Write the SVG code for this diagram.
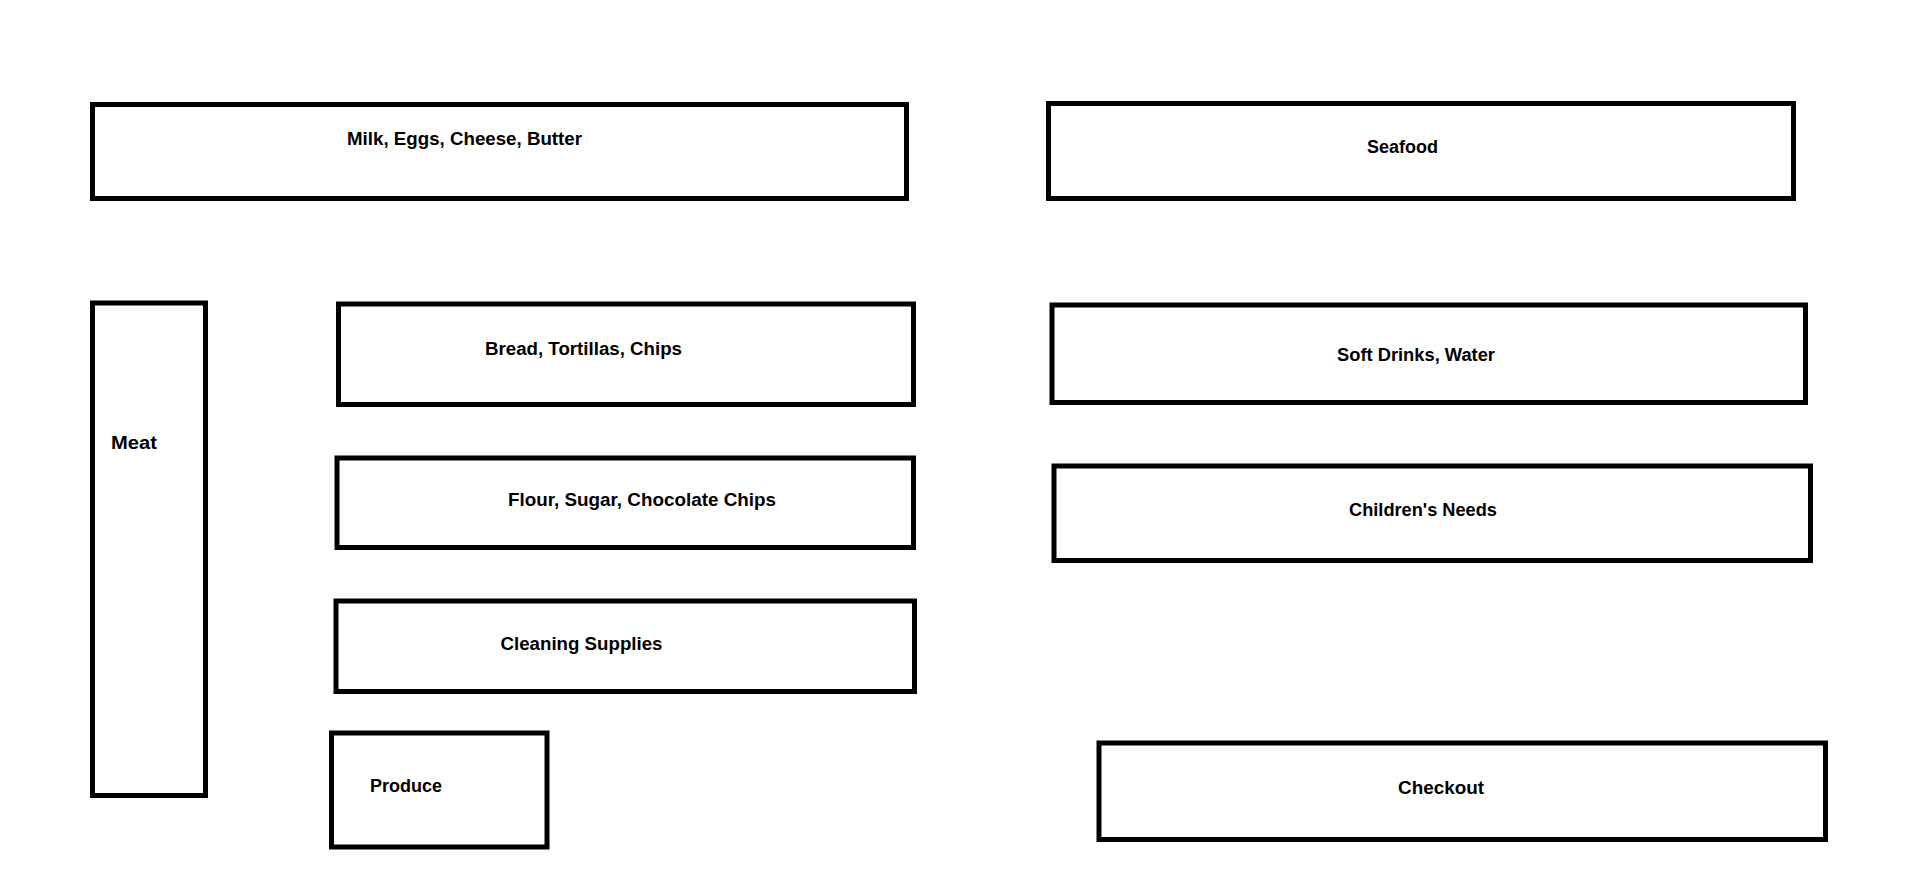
<svg xmlns="http://www.w3.org/2000/svg" width="1914" height="878" viewBox="0 0 1914 878">
<style>
.box{fill:#ffffff;stroke:#000000;stroke-width:5}
.lbl{font-family:"Liberation Sans",Arial,sans-serif;font-weight:bold;font-size:18px;fill:#000000}
</style>
<rect width="1914" height="878" fill="#ffffff"/>
<g id="milk"><rect class="box" x="92.5" y="104.5" width="814" height="94"/><text class="lbl" x="347" y="145" textLength="235" lengthAdjust="spacingAndGlyphs">Milk, Eggs, Cheese, Butter</text></g>
<g id="seafood"><rect class="box" x="1048.5" y="103.5" width="745" height="95"/><text class="lbl" x="1367" y="153" textLength="71" lengthAdjust="spacingAndGlyphs">Seafood</text></g>
<g id="meat"><rect class="box" x="92.5" y="303" width="113" height="492.5"/><text class="lbl" x="111" y="449" textLength="46" lengthAdjust="spacingAndGlyphs">Meat</text></g>
<g id="bread"><rect class="box" x="338.5" y="304" width="575" height="100.5"/><text class="lbl" x="485" y="355" textLength="197" lengthAdjust="spacingAndGlyphs">Bread, Tortillas, Chips</text></g>
<g id="flour"><rect class="box" x="337" y="458" width="576.5" height="89.5"/><text class="lbl" x="508" y="506" textLength="268" lengthAdjust="spacingAndGlyphs">Flour, Sugar, Chocolate Chips</text></g>
<g id="cleaning"><rect class="box" x="336" y="601" width="578.5" height="90.5"/><text class="lbl" x="500.5" y="650" textLength="162" lengthAdjust="spacingAndGlyphs">Cleaning Supplies</text></g>
<g id="produce"><rect class="box" x="331.5" y="733" width="215.5" height="114"/><text class="lbl" x="370" y="792" textLength="72" lengthAdjust="spacingAndGlyphs">Produce</text></g>
<g id="softdrinks"><rect class="box" x="1052" y="305" width="753.5" height="97.5"/><text class="lbl" x="1337" y="361" textLength="158" lengthAdjust="spacingAndGlyphs">Soft Drinks, Water</text></g>
<g id="children"><rect class="box" x="1054" y="466" width="756.5" height="94.5"/><text class="lbl" x="1349" y="516" textLength="148" lengthAdjust="spacingAndGlyphs">Children's Needs</text></g>
<g id="checkout"><rect class="box" x="1099" y="743" width="726.5" height="96.5"/><text class="lbl" x="1398" y="794" textLength="86" lengthAdjust="spacingAndGlyphs">Checkout</text></g>
<g id="connectors"></g>
</svg>
